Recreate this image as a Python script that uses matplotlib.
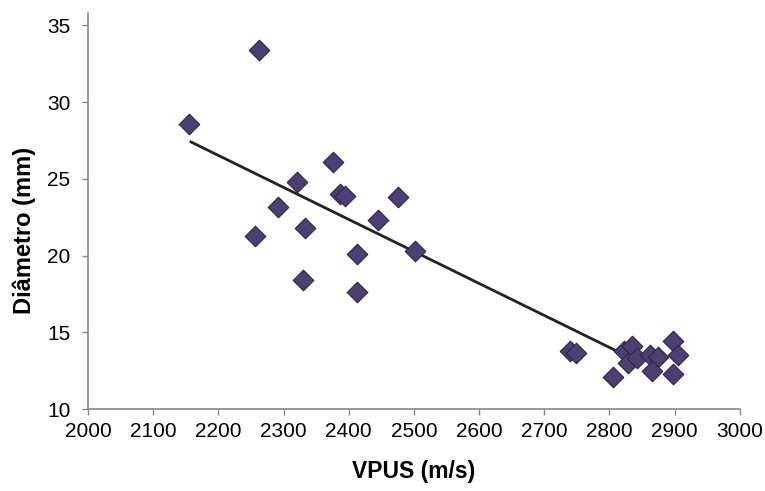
import numpy as np
import matplotlib
matplotlib.use("Agg")
import matplotlib.pyplot as plt

plt.rcParams['font.family'] = ['Liberation Sans', 'DejaVu Sans']

# dados
vpus = [2155, 2263, 2257, 2292, 2320, 2333, 2330, 2376, 2387, 2395,
        2413, 2412, 2445, 2476, 2501, 2739, 2748,
        2805, 2823, 2834, 2828, 2843, 2862, 2874, 2866, 2897, 2905, 2897]
diam = [28.6, 33.4, 21.3, 23.15, 24.8, 21.8, 18.4, 26.1, 24.0, 23.9,
        20.1, 17.6, 22.3, 23.8, 20.3, 13.75, 13.65,
        12.1, 13.8, 14.1, 13.0, 13.3, 13.5, 13.4, 12.5, 14.4, 13.5, 12.3]

# linha de tendencia (extremos lidos)
trend_x = [2158, 2815]
trend_y = [27.4, 13.7]

xticks = list(range(2000, 3001, 100))
yticks = list(range(10, 36, 5))

fig = plt.figure(figsize=(7.65, 4.91), dpi=100, facecolor='white')
ax = fig.add_axes([0.115, 0.167, 0.852, 0.8065])

ax.plot(trend_x, trend_y, color='#222222', lw=2.0, zorder=2)
ax.scatter(vpus, diam, marker='D', s=110, color='#4b3f74', edgecolors='#2e2648',
           linewidths=0.8, zorder=3)

ax.set_xlim(2000, 3000)
ax.set_ylim(10, 35.8)
ax.set_xticks(xticks)
ax.set_yticks(yticks)
ax.tick_params(labelsize=15, length=4.5, width=1, color='#888888', direction='out')
ax.tick_params(axis='y', pad=8)
ax.tick_params(axis='x', pad=5)
for s in ['top', 'right']:
    ax.spines[s].set_visible(False)
for s in ['left', 'bottom']:
    ax.spines[s].set_color('#888888')
    ax.spines[s].set_linewidth(1.2)

ax.set_xlabel('VPUS (m/s)', fontsize=16.5, fontweight='bold')
ax.set_ylabel('Diâmetro (mm)', fontsize=17, fontweight='bold')
ax.xaxis.set_label_coords(0.5, -0.13)
ax.yaxis.set_label_coords(-0.08, 0.45)

fig.savefig('out.png', dpi=100, facecolor='white')
